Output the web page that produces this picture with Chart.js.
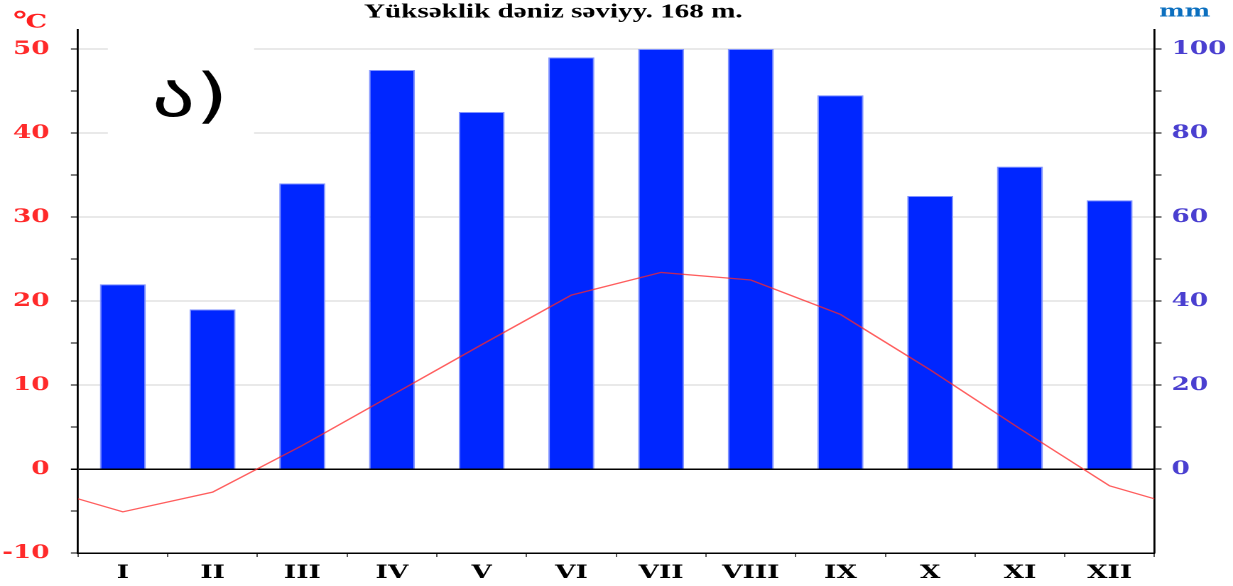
<!DOCTYPE html>
<html>
<head>
<meta charset="utf-8">
<script src="https://cdn.jsdelivr.net/npm/chart.js@4.4.1/dist/chart.umd.min.js"></script>
<style>
html,body{margin:0;padding:0;background:#fff;overflow:hidden;}
/* the original picture is stretched sideways, so draw narrow and stretch */
#wrap{width:868px;height:586px;transform:scaleX(1.4205);transform-origin:0 0;}
</style>
</head>
<body>
<div id="wrap"><canvas id="chart"></canvas></div>
<script>
const months=['I','II','III','IV','V','VI','VII','VIII','IX','X','XI','XII'];
const precip=[44,38,68,95,85,98,100,100,89,65,72,64];
const temp=[-5.1,-2.75,2.8,8.8,14.8,20.7,23.4,22.5,18.4,11.8,4.8,-2.0];
const tempEdge=-3.55; // line value at both ends of the year
const tempTicks=[-10,0,10,20,30,40,50];
const mmTicks=[0,20,40,60,80,100];

// line points: month index, plus the two half-month ends
const tempPoints=[{x:-0.5,y:tempEdge}]
  .concat(temp.map((t,i)=>({x:i,y:t})))
  .concat([{x:months.length-0.5,y:tempEdge}]);

const serifBold=(size)=>({family:'"DejaVu Serif", serif',size:size,weight:'bold'});

// white box with the letter, the title and unit labels
const extras={
  id:'extras',
  beforeDatasetsDraw(chart){
    const {ctx,chartArea}=chart;
    ctx.save();
    ctx.fillStyle='#fff';
    ctx.fillRect(chartArea.left+21,chartArea.top+10,103,100);
    ctx.fillStyle='#000';
    ctx.font='60px "DejaVu Sans"';
    ctx.textAlign='left';
    ctx.textBaseline='alphabetic';
    ctx.fillText('ა)',chartArea.left+52,116);
    ctx.restore();
  },
  afterDraw(chart){
    const {ctx}=chart;
    ctx.save();
    ctx.textBaseline='alphabetic';
    ctx.textAlign='center';
    ctx.fillStyle='#000';
    ctx.font='bold 20.5px "Liberation Serif"';
    ctx.fillText('Yüksəklik dəniz səviyy. 168 m.',389.5,17.5);
    ctx.textAlign='left';
    ctx.fillStyle='#ff2020';
    ctx.font='bold 24px "DejaVu Serif"';
    ctx.fillText('°',8,29);
    ctx.font='bold 19px "DejaVu Serif"';
    ctx.fillText('C',18,27.5);
    ctx.fillStyle='#0b6fbf';
    ctx.font='bold 17px "DejaVu Serif"';
    ctx.fillText('mm',816,16.5);
    ctx.restore();
  }
};

new Chart(document.getElementById('chart'),{
  data:{
    labels:months,
    datasets:[
      {
        type:'line',
        label:'°C',
        data:tempPoints,
        xAxisID:'xl',
        yAxisID:'y',
        borderColor:'rgba(255,40,40,0.75)',
        borderWidth:1.3,
        pointRadius:0,
        tension:0,
        order:0
      },
      {
        type:'bar',
        label:'mm',
        data:precip,
        xAxisID:'x',
        yAxisID:'y1',
        backgroundColor:'#0026ff',
        borderColor:'#8193ff',
        borderWidth:1,
        grouped:false,
        barPercentage:0.513,
        categoryPercentage:1,
        order:1
      }
    ]
  },
  options:{
    responsive:true,
    maintainAspectRatio:false,
    animation:false,
    devicePixelRatio:2,
    layout:{padding:{top:29.7,bottom:0,left:0,right:0}},
    plugins:{legend:{display:false},tooltip:{enabled:false}},
    scales:{
      x:{
        type:'category',
        offset:true,
        afterFit:(s)=>{s.height=33;},
        grid:{drawOnChartArea:false,tickLength:4,color:'#555'},
        border:{color:'#000',width:1.5},
        ticks:{font:serifBold(18.5),color:'#000',padding:5,maxRotation:0,autoSkip:false}
      },
      xl:{
        type:'linear',
        min:-0.5,
        max:months.length-0.5,
        display:false
      },
      y:{
        type:'linear',
        position:'left',
        min:-10,
        max:52.3,
        afterFit:(s)=>{s.width=54.9;},
        grid:{
          color:(c)=>c.tick.value===0?'#000':(tempTicks.includes(c.tick.value)?'#d2d2d2':'rgba(0,0,0,0)'),
          lineWidth:(c)=>c.tick.value===0?1.5:1,
          tickColor:'#000',
          tickLength:5
        },
        border:{color:'#000',width:1.4},
        ticks:{
          stepSize:5,
          includeBounds:false,
          crossAlign:'near',
          padding:15,
          color:'#ff2a2a',
          font:serifBold(18.5),
          callback:(v)=>tempTicks.includes(v)?String(v):''
        }
      },
      y1:{
        type:'linear',
        position:'right',
        min:-20,
        max:104.6,
        afterFit:(s)=>{s.width=55.3;},
        grid:{
          drawOnChartArea:false,
          tickColor:(c)=>c.tick.value<0?'rgba(0,0,0,0)':'#000',
          tickLength:5
        },
        border:{color:'#000',width:1.4},
        ticks:{
          stepSize:10,
          includeBounds:false,
          crossAlign:'near',
          padding:7,
          color:'#4a3fd0',
          font:serifBold(18.5),
          callback:(v)=>mmTicks.includes(v)?String(v):''
        }
      }
    }
  },
  plugins:[extras]
});
</script>
</body>
</html>
